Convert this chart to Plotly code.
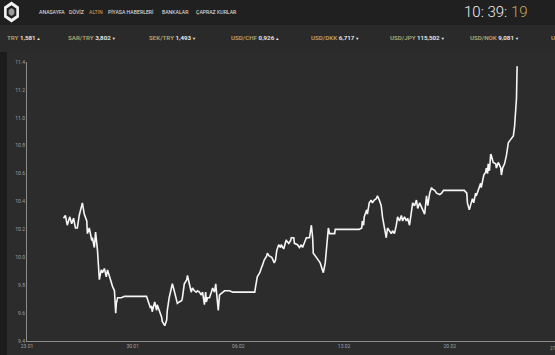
import plotly.graph_objects as go
import pandas as pd
import math

# ---------------- data ----------------
start = pd.Timestamp("2017-01-23 00:00")
hours = [58, 61, 64, 68, 71, 74, 77, 80, 83, 87, 88, 91, 95, 96, 99, 103, 104, 107, 109, 112,
         114, 115, 118, 120, 123, 126, 128, 131, 134, 136, 139, 141, 142, 144, 147, 150, 155, 190,
         193, 196, 198, 199, 203, 206, 207, 211, 214, 215, 219, 222, 223, 226, 230, 231, 234, 238,
         239, 242, 246, 247, 250, 254, 255, 258, 261, 263, 266, 269, 271, 274, 277, 279, 282, 284,
         285, 287, 290, 293, 295, 298, 300, 301, 304, 306, 309, 311, 314, 319, 322, 327, 362,
         363, 365, 366, 370, 371, 373, 374, 377, 381, 382, 385, 389, 390, 393, 395, 397, 400, 403,
         404, 408, 411, 412, 416, 419, 420, 424, 425, 428, 430, 433, 436, 438, 441, 444, 446, 449,
         452, 454, 455, 459, 460, 463, 466, 468, 471, 474, 476, 478, 479, 481, 489, 490, 528,
         532, 533, 535, 536, 540, 541, 544, 547, 549, 552, 555, 557, 560, 563, 565, 568, 571, 573,
         576, 579, 581, 584, 587, 589, 592, 595, 597, 600, 603, 605, 608, 611, 613, 616, 619, 621,
         624, 629, 632, 635, 637, 640, 643, 644, 648, 651, 656, 659, 662, 695,
         699, 700, 703, 706, 708, 710, 713, 714, 718, 721, 722, 726, 729, 730, 732, 733, 735, 737,
         738, 741, 745, 746, 749, 753, 754, 756, 759, 762, 764, 765, 768, 772, 773, 775, 776, 778, 779]
values = [10.28, 10.30, 10.23, 10.29, 10.24, 10.28, 10.21, 10.21, 10.30, 10.37, 10.39, 10.31, 10.26,
          10.17, 10.21, 10.12, 10.14, 10.07, 10.18, 10.05, 9.91, 9.84, 9.91, 9.89, 9.92, 9.86, 9.91,
          9.86, 9.82, 9.79, 9.76, 9.60, 9.67, 9.71, 9.71, 9.71, 9.72, 9.72,
          9.68, 9.64, 9.65, 9.61, 9.68, 9.62, 9.66, 9.61, 9.57, 9.54, 9.51, 9.55, 9.62, 9.71, 9.78,
          9.81, 9.76, 9.69, 9.67, 9.68, 9.69, 9.71, 9.81, 9.84, 9.87, 9.81, 9.75, 9.78, 9.76, 9.75,
          9.76, 9.75, 9.73, 9.75, 9.66, 9.75, 9.68, 9.71, 9.71, 9.75, 9.78, 9.75, 9.81, 9.76, 9.62,
          9.73, 9.74, 9.75, 9.76, 9.76, 9.76, 9.75, 9.75,
          9.78, 9.85, 9.86, 9.89, 9.91, 9.93, 9.94, 9.98, 10.01, 10.03, 10.01, 10.00, 9.99, 9.96,
          9.98, 10.05, 10.09, 10.07, 10.09, 10.06, 10.11, 10.12, 10.10, 10.12, 10.14, 10.14, 10.10,
          10.09, 10.09, 10.07, 10.09, 10.07, 10.11, 10.14, 10.14, 10.14, 10.23, 10.14, 10.03, 10.00,
          10.00, 9.98, 9.96, 9.93, 9.89, 9.96, 10.05, 10.19, 10.21, 10.17, 10.17, 10.20, 10.20,
          10.21, 10.26, 10.23, 10.29, 10.34, 10.31, 10.39, 10.41, 10.39, 10.41, 10.42, 10.44, 10.41,
          10.37, 10.29, 10.21, 10.14, 10.21, 10.19, 10.17, 10.19, 10.17, 10.23, 10.29, 10.26, 10.30,
          10.26, 10.29, 10.26, 10.28, 10.23, 10.31, 10.39, 10.37, 10.41, 10.35, 10.39, 10.34, 10.31,
          10.44, 10.37, 10.46, 10.50, 10.49, 10.48, 10.46, 10.45, 10.46, 10.48, 10.48,
          10.46, 10.39, 10.34, 10.39, 10.42, 10.39, 10.46, 10.44, 10.50, 10.53, 10.50, 10.59, 10.61,
          10.64, 10.60, 10.67, 10.62, 10.74, 10.73, 10.68, 10.67, 10.64, 10.68, 10.64, 10.59, 10.64,
          10.67, 10.73, 10.80, 10.82, 10.84, 10.86, 10.87, 10.94, 11.01, 11.14, 11.37]
dates = start + pd.to_timedelta(hours, unit="h")

y_ticks = [9.4, 9.6, 9.8, 10.0, 10.2, 10.4, 10.6, 10.8, 11.0, 11.2, 11.4]
y_tick_labels = ["9.4", "9.6", "9.8", "10.0", "10.2", "10.4", "10.6", "10.8", "11.0", "11.2", "11.4"]
x_ticks = ["2017-01-23", "2017-01-30", "2017-02-06", "2017-02-13", "2017-02-20"]
x_tick_labels = ["23.01", "30.01", "06.02", "13.02", "20.02"]

menu_items = ["ANASAYFA", "DÖVİZ", "ALTIN", "PİYASA HABERLERİ", "BANKALAR", "ÇAPRAZ KURLAR"]
ticker_names = ["TRY", "SAR/TRY", "SEK/TRY", "USD/CHF", "USD/DKK", "USD/JPY", "USD/NOK", "US"]
ticker_values = ["1,581", "3,802", "1,493", "0,926", "6,717", "115,502", "9,081", ""]
ticker_dirs = ["▲", "▼", "▼", "▲", "▼", "▼", "▼", ""]

# ---------------- styling / layout helpers ----------------
W, H = 555, 355
ML, MR, MT, MB = 27, 0, 62, 14
PW, PH = W - ML - MR, H - MT - MB
GOLD = "#c9a95e"
TAN = "#bba36b"


def fx(px):
    return (px - ML) / PW


def fy(py):
    return (H - MB - py) / PH


fig = go.Figure()
fig.add_trace(go.Scatter(x=dates, y=values, mode="lines",
                         line=dict(color="#f6f6f6", width=1.6),
                         hoverinfo="skip", showlegend=False))

shapes = []
shapes.append(dict(type="rect", xref="paper", yref="paper", x0=fx(-2), x1=fx(W + 2),
                   y0=fy(25), y1=fy(-2), fillcolor="#202020", line=dict(width=0), layer="below"))
shapes.append(dict(type="rect", xref="paper", yref="paper", x0=fx(-2), x1=fx(W + 2),
                   y0=fy(52), y1=fy(25), fillcolor="#2a2a2a", line=dict(width=0), layer="below"))
shapes.append(dict(type="rect", xref="paper", yref="paper", x0=fx(-2), x1=fx(7),
                   y0=fy(H + 2), y1=fy(52), fillcolor="#1c1c1c", line=dict(width=0), layer="below"))


def hexpath(cx, cy, r):
    pts = []
    for i in range(6):
        a = math.radians(90 + 60 * i)
        pts.append((fx(cx + r * math.cos(a) * 0.82), fy(cy - r * math.sin(a))))
    return "M " + " L ".join(f"{x:.5f},{y:.5f}" for x, y in pts) + " Z"


shapes.append(dict(type="path", xref="paper", yref="paper", path=hexpath(11.5, 12, 10.5),
                   fillcolor="#f4f4f4", line=dict(width=0)))
shapes.append(dict(type="path", xref="paper", yref="paper", path=hexpath(11.5, 12, 6.8),
                   fillcolor="#202020", line=dict(width=0)))
shapes.append(dict(type="path", xref="paper", yref="paper", path=hexpath(11.5, 12, 4.0),
                   fillcolor="#9a9a9a", line=dict(width=0)))

annotations = []
menu_x = [37, 67, 87, 106, 160, 194]
for name, px in zip(menu_items, menu_x):
    annotations.append(dict(xref="paper", yref="paper", x=fx(px), y=fy(11.5), text=name,
                            showarrow=False, xanchor="left", yanchor="middle",
                            font=dict(family="Roboto", size=5.2,
                                      color=GOLD if name == "ALTIN" else "#e6e6e6")))

annotations.append(dict(xref="paper", yref="paper", x=fx(462), y=fy(12),
                        text=f"10: 39: <span style='color:{GOLD}'>19</span>",
                        showarrow=False, xanchor="left", yanchor="middle",
                        font=dict(family="Roboto", size=15, color="#f0f0f0", weight=300)))

ticker_x = [5, 66, 147, 229, 309, 388, 468, 549]
for nm, val, d, px in zip(ticker_names, ticker_values, ticker_dirs, ticker_x):
    txt = f"<span style='color:{TAN}'>{nm}</span>"
    if val:
        txt += f" {val}<span style='font-size:4px'> {d}</span>"
    annotations.append(dict(xref="paper", yref="paper", x=fx(px), y=fy(38.5), text=txt,
                            showarrow=False, xanchor="left", yanchor="middle",
                            font=dict(family="Roboto", size=6.2, color="#f0f0f0", weight=600)))

annotations.append(dict(xref="paper", yref="paper", x=fx(556), y=fy(347.5), text="27.02",
                        showarrow=False, xanchor="center", yanchor="middle",
                        font=dict(family="Roboto", size=5, color="#a0a0a0")))

end = start + pd.Timedelta(hours=(W - ML) * 24 / 15.1)

fig.update_layout(
    width=W, height=H,
    margin=dict(l=ML, r=MR, t=MT, b=MB, pad=0),
    paper_bgcolor="#2c2c2c", plot_bgcolor="#2c2c2c",
    shapes=shapes, annotations=annotations,
    showlegend=False,
    xaxis=dict(range=[start, end], showgrid=False, zeroline=False, showline=True,
               linecolor="#8c8c8c", linewidth=1, tickvals=x_ticks, ticktext=x_tick_labels,
               ticks="", tickfont=dict(family="Roboto", size=5, color="#a0a0a0")),
    yaxis=dict(range=[9.4, 11.4], showgrid=False, zeroline=False, showline=True,
               linecolor="#8c8c8c", linewidth=1, tickvals=y_ticks, ticktext=y_tick_labels,
               ticks="", tickfont=dict(family="Roboto", size=5, color="#a0a0a0")),
)

fig.write_html("out.html")
